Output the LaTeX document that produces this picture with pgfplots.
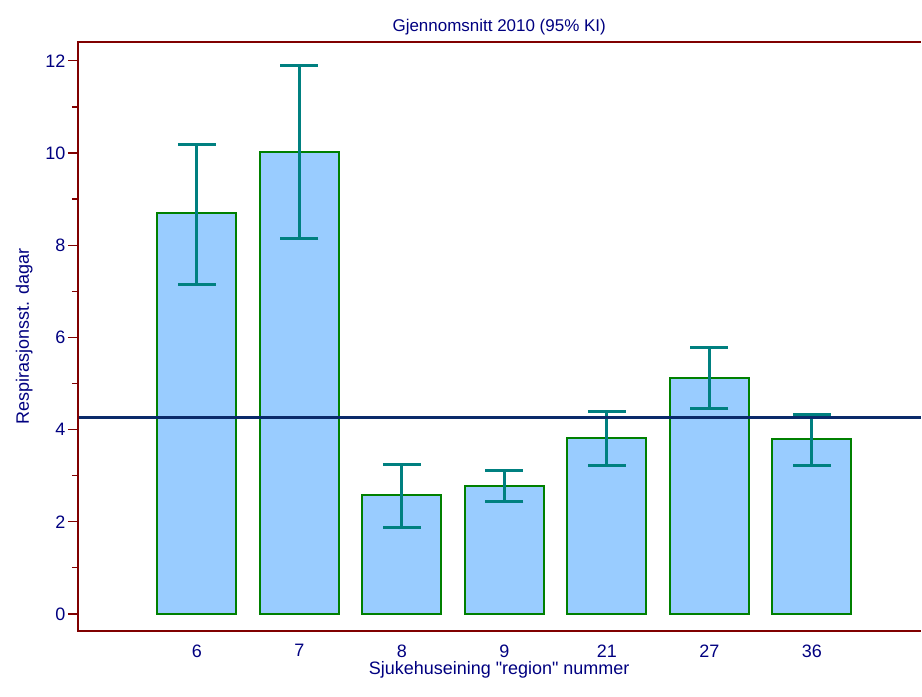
\documentclass[border=0pt]{standalone}
\usepackage{pgfplots}
\pgfplotsset{compat=1.18}
\usepackage{fontspec}
\setmainfont{Liberation Sans}
\definecolor{frame}{HTML}{800000}
\definecolor{barfill}{HTML}{99CCFF}
\definecolor{baredge}{HTML}{008000}
\definecolor{err}{HTML}{008080}
\definecolor{navy}{HTML}{0A2A6A}
\definecolor{txt}{HTML}{000080}
\begin{document}
\begin{tikzpicture}[x=1pt,y=1pt]
\begin{axis}[
  scale only axis, width=844pt, height=590pt,
  xmin=-1.16, xmax=7.06, ymin=-0.37, ymax=12.41,
  axis line style={draw=none},
  xtick={0,...,6}, xticklabels={6,7,8,9,21,27,36},
  x tick style={draw=none},
  ytick={0,2,...,12}, minor ytick={1,3,...,11},
  ytick pos=left,
  y tick style={frame, line width=1.3pt},
  tick align=outside, major tick length=10pt, minor tick length=6pt,
  ticklabel style={font=\fontsize{18}{20}\selectfont, text=txt},
  yticklabel style={xshift=1pt},
  /pgf/number format/assume math mode=true,
  xlabel={Sjukehuseining \textquotedbl region\textquotedbl\ nummer}, ylabel={Respirasjonsst. dagar},
  label style={font=\fontsize{18}{20}\selectfont, text=txt},
  xlabel style={yshift=3pt}, ylabel style={yshift=6pt},
  title={Gjennomsnitt 2010 (95\% KI)}, title style={font=\fontsize{17}{19}\selectfont, text=txt, yshift=-3pt},
  clip=false,
]
\addplot[ybar, bar width=0.77, fill=barfill, draw=baredge, line width=1.8pt,
  error bars/.cd, y dir=both, y explicit,
  error bar style={err, line width=3pt},
  error mark options={err, rotate=90, mark size=19pt, line width=3pt}]
coordinates {
 (0,8.69) += (0,1.49) -= (0,1.54)
 (1,10.03) += (0,1.86) -= (0,1.89)
 (2,2.58) += (0,0.67) -= (0,0.70)
 (3,2.77) += (0,0.35) -= (0,0.34)
 (4,3.81) += (0,0.59) -= (0,0.58)
 (5,5.11) += (0,0.67) -= (0,0.65)
 (6,3.79) += (0,0.54) -= (0,0.58)
};
\addplot[navy, line width=3pt] coordinates {(-1.16,4.27) (7.06,4.27)};
\draw[frame, line width=2.6pt] (rel axis cs:1,1) -- (rel axis cs:0,1) -- (rel axis cs:0,0) -- (rel axis cs:1,0);
\end{axis}
\path[use as bounding box] (-78,-66) rectangle (844,632);
\end{tikzpicture}
\end{document}
